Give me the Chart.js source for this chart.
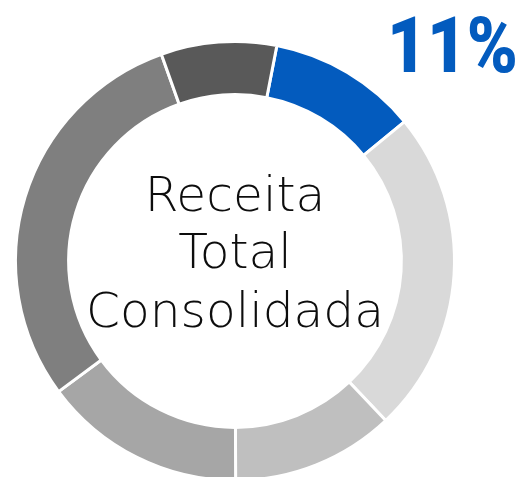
<!DOCTYPE html>
<html>
<head>
<meta charset="utf-8">
<script src="https://cdn.jsdelivr.net/npm/chart.js@4"></script>
<style>
    html, body { margin: 0; padding: 0; background: #ffffff; overflow: hidden; }
    #caixa { position: absolute; left: 0; top: 0; width: 524px; height: 485px; }
</style>
</head>
<body>
<div id="caixa"><canvas id="grafico_receita"></canvas></div>
<script>
// fatias da receita, no sentido horário a partir do segmento azul
const categorias = ["Segmento A", "Segmento B", "Segmento C", "Segmento D", "Segmento E", "Segmento F"];
const valores    = [11, 23.9, 12.0, 14.9, 29.7, 8.5];
const cores      = ["#035bbe", "#d9d9d9", "#bfbfbf", "#a6a6a6", "#7f7f7f", "#595959"];

const titulo_centro = ["Receita", "Total", "Consolidada"];
const destaque      = "11%";

//texto do meio e o percentual em destaque
const textos = {
    id: "textos",
    afterDraw(chart){
        const ctx = chart.ctx;
        const arco = chart.getDatasetMeta(0).data[0];
        const cx = arco.x;
        const cy = arco.y;

        ctx.save();
        ctx.fillStyle = "#0d0d0d";
        ctx.textAlign = "center";
        ctx.textBaseline = "alphabetic";
        ctx.font = '300 46px "DejaVu Sans"';
        let w = ctx.measureText(titulo_centro[2]).width;
        let tam = 46 * 298 / w;
        ctx.font = '300 ' + tam + 'px "DejaVu Sans"';
        let base = [cy - 50, cy + 7, cy + 66];
        for (let i = 0; i < titulo_centro.length; i++){
            ctx.fillText(titulo_centro[i], cx, base[i]);
        }
        ctx.restore();

        ctx.save();
        ctx.fillStyle = "#035bbe";
        ctx.textAlign = "left";
        ctx.textBaseline = "alphabetic";
        ctx.font = '900 77px Roboto';
        let wd = ctx.measureText(destaque).width;
        let sx = 131 / wd;
        ctx.translate(387, 72);
        ctx.scale(sx, 1);
        ctx.fillText(destaque, 0, 0);
        ctx.restore();
    }
};

const ctx = document.getElementById("grafico_receita").getContext("2d");
const myChart = new Chart(ctx, {
    type: "doughnut",
    data: {
        labels: categorias,
        datasets: [{
            data: valores,
            backgroundColor: cores,
            borderColor: "#ffffff",
            borderWidth: 3
        }]
    },
    options: {
        responsive: true,
        maintainAspectRatio: false,
        animation: false,
        rotation: 11,
        cutout: "75.8%",
        layout: {
            padding: { left: 14, right: 68, top: 40, bottom: 3 }
        },
        plugins: {
            legend: { display: false },
            tooltip: { enabled: false }
        }
    },
    plugins: [textos]
});
</script>
</body>
</html>
